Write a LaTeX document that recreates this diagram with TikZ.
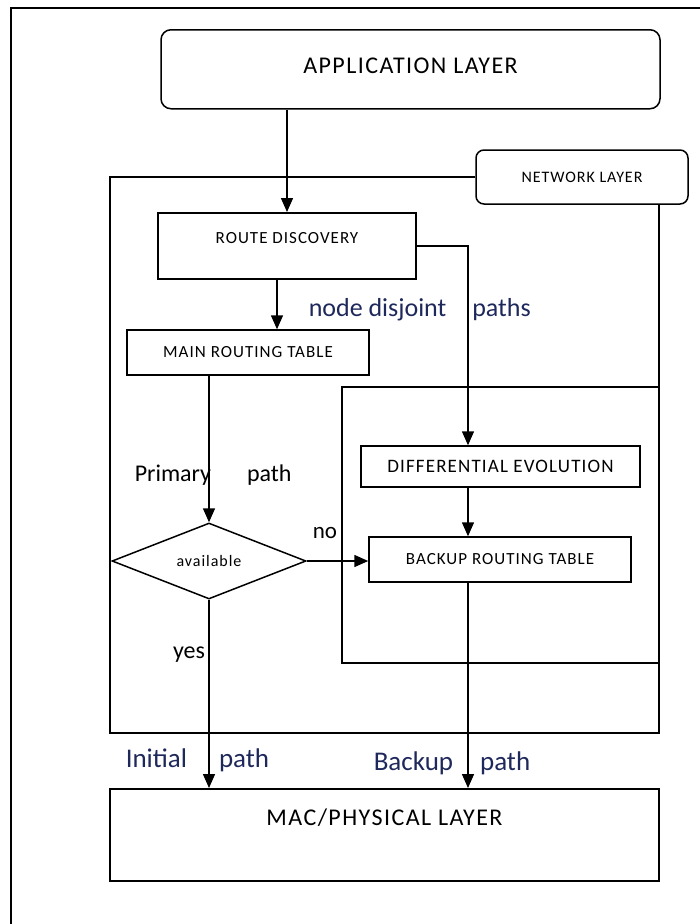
\documentclass[tikz,border=0pt]{standalone}
\usepackage{fontspec}
\setmainfont{Carlito}
\newfontfamily\boxfont{Carlito}[LetterSpace=6]
\usepackage{tikz}
\usetikzlibrary{shapes, arrows.meta, positioning, calc}
\definecolor{labelblue}{RGB}{30,40,90}

\begin{document}
\begin{tikzpicture}[
        x=1pt, y=-1pt,
        line width=1.5pt,
        box/.style={rectangle, draw, inner sep=0pt, align=center},
        layer/.style={box, rounded corners=10pt},
        decision/.style={diamond, draw, inner sep=0pt, minimum width=194pt, minimum height=75pt, font=\fontsize{16}{18}\boxfont},
        lbl/.style={inner sep=0pt, font=\fontsize{26}{28}\selectfont},
        arr/.style={-{Triangle[length=14pt, width=12pt]}}
    ]
    \useasboundingbox (0,0) rectangle (700,924);
    \draw (11,924) -- (11,8) -- (700,8);

    \node[layer, anchor=north, minimum width=499pt, text height=44pt, text depth=35pt, font=\fontsize{24}{26}\boxfont] (APP) at (410.5,29) {APPLICATION LAYER};
    \node[layer, rounded corners=8pt, minimum width=212pt, minimum height=54pt, font=\fontsize{16}{18}\boxfont] (NET) at (582,177) {NETWORK LAYER};
    \node[box, anchor=north, minimum width=258pt, text height=30.5pt, text depth=35.5pt, font=\fontsize{17}{19}\boxfont] (RD) at (287,212) {ROUTE DISCOVERY};
    \node[box, minimum width=242pt, minimum height=45pt, font=\fontsize{17}{19}\boxfont] (MRT) at (248,352.5) {MAIN ROUTING TABLE};
    \node[box, minimum width=279pt, minimum height=41pt, font=\fontsize{19}{21}\boxfont] (DE) at (500.5,466.5) {DIFFERENTIAL EVOLUTION};
    \node[box, minimum width=262pt, minimum height=45pt, font=\fontsize{17}{19}\boxfont] (BRT) at (500,559.5) {BACKUP ROUTING TABLE};
    \node[decision] (AV) at (209,561) {available};
    \node[box, anchor=north, minimum width=549pt, text height=37pt, text depth=55pt, font=\fontsize{24}{26}\boxfont] (MAC) at (384.5,788) {MAC/PHYSICAL LAYER};

    \coordinate (NF) at (110,733);
    \coordinate (NE) at (659,733);
    \coordinate (BX) at (342,387);
    \coordinate (BY) at (342,663);
    \coordinate (C) at (468,0);
    \draw (NET.west) -| (NF) -- (NE) -- (NE |- NET.south);
    \draw (NE |- BX) -- (BX) -- (BY) -- (NE |- BY);

    \draw[arr] (APP.south -| RD.north) -- (RD.north);
    \draw[arr] ([xshift=-10pt]RD.south) -- ([xshift=-10pt]RD.south |- MRT.north);
    \draw[arr] (MRT.south -| AV.north) -- (AV.north);
    \draw[arr] (RD.east) -| (C |- DE.north);
    \draw[arr] (C |- DE.south) -- (C |- BRT.north);
    \draw[arr] (AV.east) -- (AV.east -| BRT.west);
    \draw[arr] (AV.south) -- (AV.south |- MAC.north);
    \draw[arr] (C |- BRT.south) -- (C |- MAC.north);

    \node[lbl, text=labelblue, anchor=west] (ND) at (308,310) {node disjoint\quad paths};
    \node[lbl, font=\fontsize{24}{26}\selectfont, anchor=west] (PP) at (134,475) {Primary\hspace{36pt}path};
    \node[lbl, font=\fontsize{23}{25}\selectfont] (NO) at (325,533) {no};
    \node[lbl, font=\fontsize{24}{26}\selectfont] (YES) at (189,655) {yes};
    \node[lbl, text=labelblue, font=\fontsize{27}{29}\selectfont, anchor=west] (IP) at (125,760) {Initial\hspace{32pt}path};
    \node[lbl, text=labelblue, font=\fontsize{27}{29}\selectfont, anchor=west] (BP) at (373,763) {Backup\hspace{27pt}path};
\end{tikzpicture}
\end{document}
